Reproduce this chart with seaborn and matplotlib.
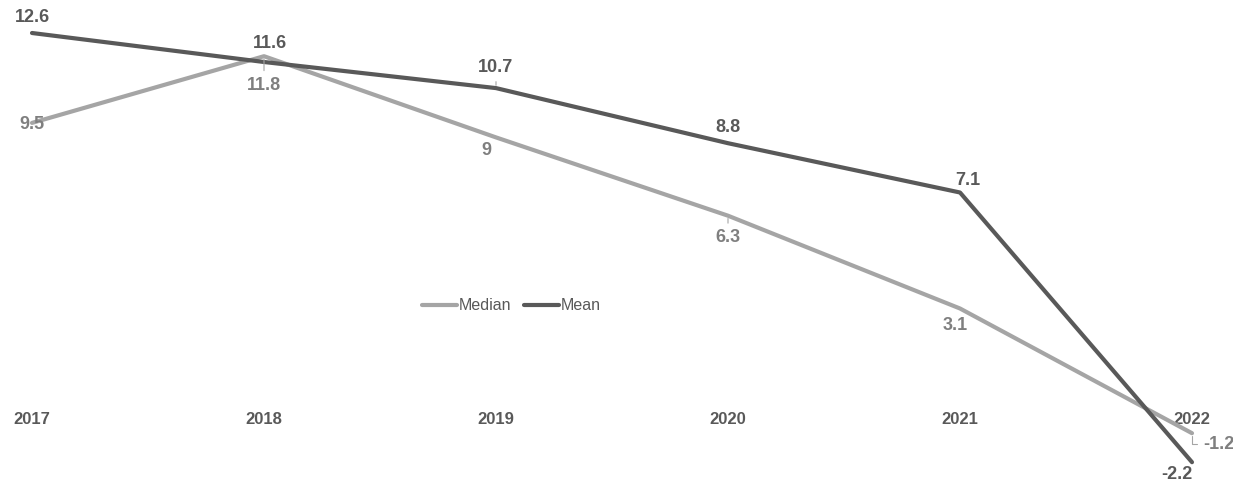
import pandas as pd
import matplotlib
matplotlib.use("Agg")
import matplotlib.pyplot as plt
import seaborn as sns

# data
years = ["2017", "2018", "2019", "2020", "2021", "2022"]
median_vals = [9.5, 11.8, 9.0, 6.3, 3.1, -1.2]
mean_vals = [12.6, 11.6, 10.7, 8.8, 7.1, -2.2]
median_labels = ["9.5", "11.8", "9", "6.3", "3.1", "-1.2"]
mean_labels = ["12.6", "11.6", "10.7", "8.8", "7.1", "-2.2"]

MEDIAN_COLOR = "#a5a5a5"
MEAN_COLOR = "#595959"
MEDIAN_TEXT = "#7f7f7f"
TEXT_COLOR = "#595959"

# label offsets in pixels (dx, dy, ha, leader line style or None)
mean_offsets = [(0, 16, "center", None), (6, 19, "center", None), (0, 21, "center", "arc3"),
                (0, 16, "center", None), (8, 12, "center", None), (-15, -12, "center", None)]
median_offsets = [(0, -2, "center", None), (0, -29, "center", "arc3"), (-10, -13, "center", None),
                  (0, -22, "center", "arc3"), (-5, -17, "center", None),
                  (11, -11, "left", "angle,angleA=0,angleB=90,rad=0")]

df = pd.DataFrame({
    "x": list(range(len(years))) * 2,
    "value": median_vals + mean_vals,
    "series": ["Median"] * len(years) + ["Mean"] * len(years),
})

sns.set_style("white")
plt.rcParams["font.family"] = ["Liberation Sans", "DejaVu Sans"]

fig = plt.figure(figsize=(12.33, 4.84), dpi=100)
ax = fig.add_axes([0, 0, 1, 1])

sns.lineplot(data=df, x="x", y="value", hue="series",
             palette={"Median": MEDIAN_COLOR, "Mean": MEAN_COLOR},
             linewidth=3, ax=ax, legend=True)

ax.set_xlim(-32 / 232, 5 + 41 / 232)
ax.set_ylim(12.6 - 451 / 29, 12.6 + 33 / 29)

# category axis sitting on zero, no visible line
for s in ["top", "right", "left"]:
    ax.spines[s].set_visible(False)
ax.spines["bottom"].set_position(("data", 0))
ax.spines["bottom"].set_color("none")
ax.set_xticks(range(len(years)))
ax.set_xticklabels(years, fontsize=12, fontweight="bold", color=TEXT_COLOR)
ax.tick_params(axis="x", length=0, pad=10)
ax.set_yticks([])
ax.set_xlabel("")
ax.set_ylabel("")


def add_labels(vals, labels, offsets, color, line_color):
    for i, (v, lab, (dx, dy, ha, leader)) in enumerate(zip(vals, labels, offsets)):
        kw = {}
        if leader:
            kw["arrowprops"] = dict(arrowstyle="-", color=line_color, lw=0.8,
                                    shrinkA=2, shrinkB=2, connectionstyle=leader)
        ax.annotate(lab, (i, v), xytext=(dx, dy), textcoords="offset pixels",
                    ha=ha, va="center", fontsize=13, fontweight="bold",
                    color=color, annotation_clip=False, **kw)


add_labels(mean_vals, mean_labels, mean_offsets, TEXT_COLOR, "#a5a5a5")
add_labels(median_vals, median_labels, median_offsets, MEDIAN_TEXT, "#a5a5a5")

leg = ax.legend(loc="center", bbox_to_anchor=(0.415, 1 - 306 / 484), ncol=2,
                frameon=False, fontsize=11.5, handlelength=2.2, handletextpad=0.1,
                columnspacing=0.8, labelcolor=TEXT_COLOR)

fig.savefig("out.png", dpi=100)
